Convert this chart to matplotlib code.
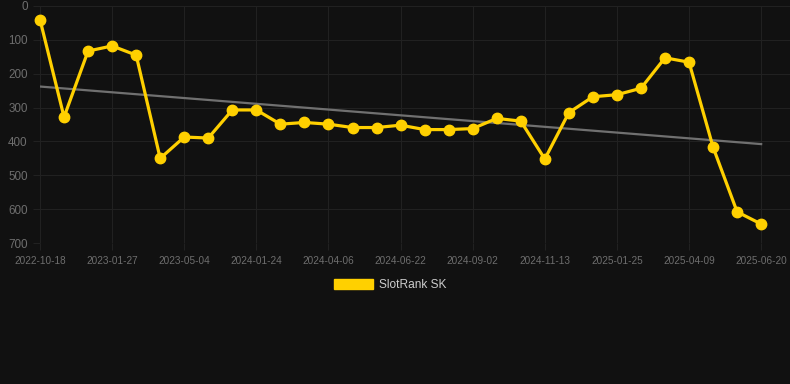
import matplotlib.pyplot as plt
import numpy as np

plt.rcParams['font.family'] = ['Liberation Sans', 'DejaVu Sans']

dates = ['2022-10-18', '', '', '2023-01-27', '', '', '2023-05-04', '', '', '2024-01-24', '', '',
         '2024-04-06', '', '', '2024-06-22', '', '', '2024-09-02', '', '', '2024-11-13', '', '',
         '2025-01-25', '', '', '2025-04-09', '', '', '2025-06-20']
rank = [40, 328, 133, 118, 145, 450, 387, 390, 307, 307,
        349, 344, 349, 359, 359, 352, 365, 365, 362, 332,
        340, 452, 315, 268, 262, 243, 153, 166, 417, 608, 644]
series_name = 'SlotRank SK'

bg = '#111111'
grid_c = '#212121'
yellow = '#FFD000'

fig = plt.figure(figsize=(7.9, 3.84), dpi=100, facecolor=bg)
ax = fig.add_axes([40 / 790, 1 - 243 / 384, 750 / 790, 237 / 384], facecolor=bg)

x = np.arange(len(rank))
coef = np.polyfit(x, rank, 1)
ax.plot(x, np.polyval(coef, x), color='#707070', linewidth=1.6, zorder=2)
ax.plot(x, rank, color=yellow, linewidth=2.3, marker='o', markersize=7.5, zorder=3, clip_on=False)

ax.set_xlim(0, 31.2)
ax.set_ylim(700, 0)
ax.set_yticks(range(0, 701, 100))
ax.set_xticks(x[::3])
ax.set_xticklabels([d for d in dates if d])

ax.grid(True, color=grid_c, linewidth=0.8)
for s in ax.spines.values():
    s.set_visible(False)
ax.tick_params(axis='y', colors=grid_c, labelcolor='#6e6e6e', labelsize=8.4, length=5, pad=4)
ax.tick_params(axis='x', colors=grid_c, labelcolor='#6e6e6e', labelsize=7.2, length=5, pad=4)

h = plt.Rectangle((0, 0), 1, 1, color=yellow)
leg = fig.legend([h], [series_name], loc='center', bbox_to_anchor=(390 / 790, 1 - 285 / 384),
                 frameon=False, fontsize=8.6, handlelength=3.3, handleheight=1.0, handletextpad=0.5)
for t in leg.get_texts():
    t.set_color('#cccccc')

fig.savefig('out.png', dpi=100, facecolor=bg)
